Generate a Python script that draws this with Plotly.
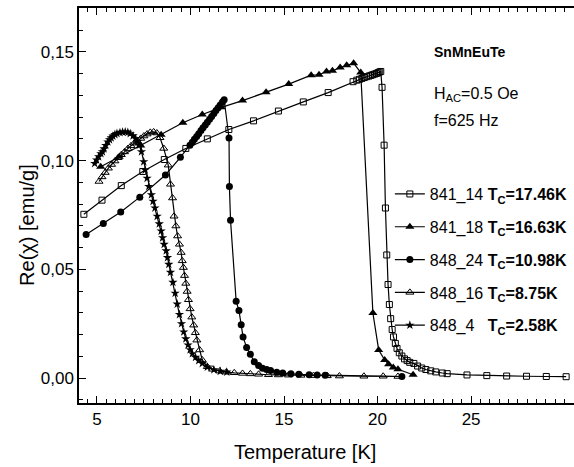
import plotly.graph_objects as go

# ---------------- data ----------------
sq_T = [4.30, 5.27, 6.30, 7.45, 8.60, 9.75, 10.90, 12.05, 13.37, 14.70, 16.03, 17.36, 18.69, 18.89, 19.03,
        19.16, 19.29, 19.42, 19.54, 19.64, 19.74, 19.84, 19.94, 20.02, 20.09, 20.17, 20.24, 20.35, 20.42,
        20.49, 20.56, 20.63, 20.70, 20.78, 20.85, 20.95, 21.04, 21.16, 21.30, 21.44, 21.58, 21.72, 21.94,
        22.14, 22.36, 22.58, 22.84, 23.11, 23.46, 23.72, 24.78, 25.84, 26.90, 27.96, 29.02, 30.08]
sq_chi = [0.0753, 0.0818, 0.0885, 0.0950, 0.1005, 0.1056, 0.1100, 0.1143, 0.1183, 0.1228, 0.1270, 0.1313,
          0.1363, 0.1370, 0.1374, 0.1378, 0.1382, 0.1386, 0.1389, 0.1392, 0.1395, 0.1398, 0.1401, 0.1404,
          0.1407, 0.1410, 0.1337, 0.1071, 0.0782, 0.0566, 0.0430, 0.0338, 0.0273, 0.0223, 0.0189, 0.0159,
          0.0136, 0.0116, 0.0101, 0.0088, 0.0080, 0.0072, 0.0067, 0.0055, 0.0046, 0.0039, 0.0033, 0.0028,
          0.0023, 0.0020, 0.0014, 0.0011, 0.0009, 0.0008, 0.0007, 0.0006]

tri_T = [5.20, 6.19, 7.34, 8.43, 9.59, 10.63, 11.65, 12.78, 14.04, 15.25, 16.45, 16.87, 17.27, 17.59, 18.00,
         18.35, 18.72, 19.10, 19.75, 20.06, 20.38, 20.59, 20.84, 21.09, 21.90]
tri_chi = [0.0972, 0.1018, 0.1070, 0.1119, 0.1174, 0.1212, 0.1245, 0.1276, 0.1315, 0.1352, 0.1393, 0.1395,
           0.1410, 0.1413, 0.1428, 0.1439, 0.1448, 0.1405, 0.0299, 0.0129, 0.0083, 0.0063, 0.0048, 0.0040,
           0.0015]

circ_T = [4.42, 5.34, 6.27, 7.29, 8.66, 9.46, 9.97, 10.10, 10.21, 10.33, 10.44, 10.56, 10.67, 10.79, 10.90,
          11.02, 11.13, 11.25, 11.36, 11.48, 11.59, 11.71, 11.80, 12.06, 12.08, 12.14, 12.44, 12.59, 12.71,
          12.81, 13.00, 13.20, 13.41, 13.64, 13.85, 14.07, 14.28, 14.61, 14.93, 15.37, 15.79, 16.34, 16.77,
          17.20, 21.30]
circ_chi = [0.0660, 0.0711, 0.0764, 0.0832, 0.0934, 0.1015, 0.1071, 0.1085, 0.1098, 0.1111, 0.1124,
            0.1138, 0.1151, 0.1164, 0.1177, 0.1190, 0.1203, 0.1217, 0.1230, 0.1243, 0.1256, 0.1270, 0.1280,
            0.1104, 0.0881, 0.0726, 0.0353, 0.0311, 0.0245, 0.0189, 0.0140, 0.0109, 0.0075, 0.0058, 0.0045,
            0.0039, 0.0034, 0.0026, 0.0023, 0.0019, 0.0017, 0.0015, 0.0014, 0.0013, 0.0007]

otri_T = [5.11, 5.27, 5.44, 5.61, 5.78, 5.96, 6.13, 6.30, 6.47, 6.65, 6.82, 6.99, 7.16, 7.34, 7.51, 7.68,
          7.85, 8.03, 8.20, 8.37, 8.57, 8.81, 8.93, 9.04, 9.12, 9.22, 9.31, 9.41, 9.50, 9.56, 9.62, 9.68,
          9.75, 9.82, 9.89, 9.98, 10.07, 10.17, 10.26, 10.34, 10.49, 10.63, 10.90, 11.18, 11.56, 11.92,
          12.34, 12.78, 13.20, 13.64, 14.17, 14.70, 15.24, 15.90, 16.57, 17.31, 17.96, 19.27, 20.30, 21.09]
otri_chi = [0.0904, 0.0925, 0.0945, 0.0965, 0.0982, 0.0998, 0.1013, 0.1027, 0.1040, 0.1055, 0.1068, 0.1080,
            0.1090, 0.1102, 0.1113, 0.1122, 0.1130, 0.1132, 0.1127, 0.1105, 0.1056, 0.0979, 0.0891, 0.0828,
            0.0744, 0.0699, 0.0653, 0.0615, 0.0577, 0.0539, 0.0508, 0.0471, 0.0435, 0.0398, 0.0360, 0.0318,
            0.0280, 0.0243, 0.0208, 0.0174, 0.0129, 0.0083, 0.0052, 0.0040, 0.0032, 0.0027, 0.0024, 0.0021,
            0.0019, 0.0017, 0.0015, 0.0014, 0.0013, 0.0012, 0.0011, 0.0010, 0.0009, 0.0008, 0.0008, 0.0007]

star_T = [4.88, 4.98, 5.09, 5.21, 5.29, 5.38, 5.47, 5.58, 5.67, 5.76, 5.85, 5.96, 6.07, 6.23, 6.37, 6.51,
          6.65, 6.78, 6.93, 7.07, 7.16, 7.26, 7.38, 7.50, 7.58, 7.68, 7.77, 7.91, 8.00, 8.10, 8.22, 8.33,
          8.43, 8.51, 8.59, 8.70, 8.77, 8.84, 8.93, 9.06, 9.18, 9.29, 9.41, 9.52, 9.64, 9.75, 9.87, 9.98,
          10.10, 10.27, 10.44, 10.63, 10.90, 11.25, 11.59, 11.94]
star_chi = [0.0987, 0.1003, 0.1018, 0.1032, 0.1041, 0.1054, 0.1070, 0.1086, 0.1096, 0.1105, 0.1113, 0.1120,
            0.1125, 0.1129, 0.1131, 0.1132, 0.1130, 0.1124, 0.1114, 0.1101, 0.1088, 0.1071, 0.1041, 0.0995,
            0.0957, 0.0919, 0.0881, 0.0843, 0.0813, 0.0782, 0.0744, 0.0709, 0.0676, 0.0645, 0.0615, 0.0585,
            0.0554, 0.0523, 0.0486, 0.0440, 0.0390, 0.0340, 0.0292, 0.0250, 0.0212, 0.0180, 0.0152, 0.0130,
            0.0112, 0.0095, 0.0080, 0.0067, 0.0050, 0.0038, 0.0031, 0.0027]

x_tick_vals = [5, 10, 15, 20, 25]
y_tick_vals = [0.0, 0.05, 0.10, 0.15]

legend_names = [
    "841_14 <b>T<sub>C</sub>=17.46K</b>",
    "841_18 <b>T<sub>C</sub>=16.63K</b>",
    "848_24 <b>T<sub>C</sub>=10.98K</b>",
    "848_16 <b>T<sub>C</sub>=8.75K</b>",
    "848_4\u00a0\u00a0\u00a0<b>T<sub>C</sub>=2.58K</b>",
]

# ---------------- figure ----------------
FONT = "Liberation Sans, Arial, sans-serif"
fig = go.Figure()

series = [
    (sq_T, sq_chi, dict(symbol="square-open", size=6, color="black", line=dict(width=1))),
    (tri_T, tri_chi, dict(symbol="triangle-up", size=8, color="black")),
    (circ_T, circ_chi, dict(symbol="circle", size=7, color="black")),
    (otri_T, otri_chi, dict(symbol="triangle-up-open", size=7, color="black", line=dict(width=1))),
    (star_T, star_chi, dict(symbol="star", size=7, color="black")),
]
for i, (xs, ys, mk) in enumerate(series):
    fig.add_trace(go.Scatter(
        x=xs, y=ys, mode="lines+markers", name=legend_names[i],
        line=dict(color="black", width=1.2), marker=mk,
        legendgroup=f"g{i}",
    ))

fig.update_layout(
    width=574, height=467,
    margin=dict(l=79, r=0, t=8, b=64),
    paper_bgcolor="white", plot_bgcolor="white",
    separators=",.",
    font=dict(family=FONT, color="black", size=16),
    showlegend=True,
    legend=dict(
        x=0.628, y=0.572, xanchor="left", yanchor="top",
        font=dict(size=16, family=FONT), bgcolor="rgba(0,0,0,0)",
        tracegroupgap=9, itemwidth=30,
    ),
    xaxis=dict(
        range=[4.04, 30.5], showgrid=False, zeroline=False,
        showline=True, linecolor="black", linewidth=1.5, mirror="ticks",
        ticks="inside", ticklen=7, tickwidth=1.2, tickcolor="black",
        tickmode="array", tickvals=x_tick_vals, tickfont=dict(size=17),
        minor=dict(dtick=0.5, tick0=0, ticks="inside", ticklen=4, tickwidth=1, tickcolor="black"),
    ),
    yaxis=dict(
        range=[-0.0115, 0.1702], showgrid=False, zeroline=False,
        showline=True, linecolor="black", linewidth=1.5,
        ticks="inside", ticklen=7, tickwidth=1.2, tickcolor="black",
        tickmode="array", tickvals=y_tick_vals, tickformat=".2f", tickfont=dict(size=17),
        minor=dict(dtick=0.01, tick0=0, ticks="inside", ticklen=4, tickwidth=1, tickcolor="black"),
    ),
    annotations=[
        dict(text="Temperature [K]", xref="paper", yref="paper", x=0.457, y=-0.124,
             xanchor="center", yanchor="middle", showarrow=False, font=dict(size=20)),
        dict(text="Re(χ) [emu/g]", xref="paper", yref="paper", x=-0.105, y=0.451,
             xanchor="center", yanchor="middle", showarrow=False, textangle=-90,
             font=dict(size=20)),
        dict(text="<b>SnMnEuTe</b>", xref="paper", yref="paper", x=0.790, y=0.889,
             xanchor="center", yanchor="middle", showarrow=False, font=dict(size=14)),
        dict(text="H<sub>AC</sub>=0.5 Oe", xref="paper", yref="paper", x=0.713, y=0.782,
             xanchor="left", yanchor="middle", showarrow=False, font=dict(size=16)),
        dict(text="f=625 Hz", xref="paper", yref="paper", x=0.713, y=0.716,
             xanchor="left", yanchor="middle", showarrow=False, font=dict(size=16)),
    ],
)

fig.write_html("out.html")
